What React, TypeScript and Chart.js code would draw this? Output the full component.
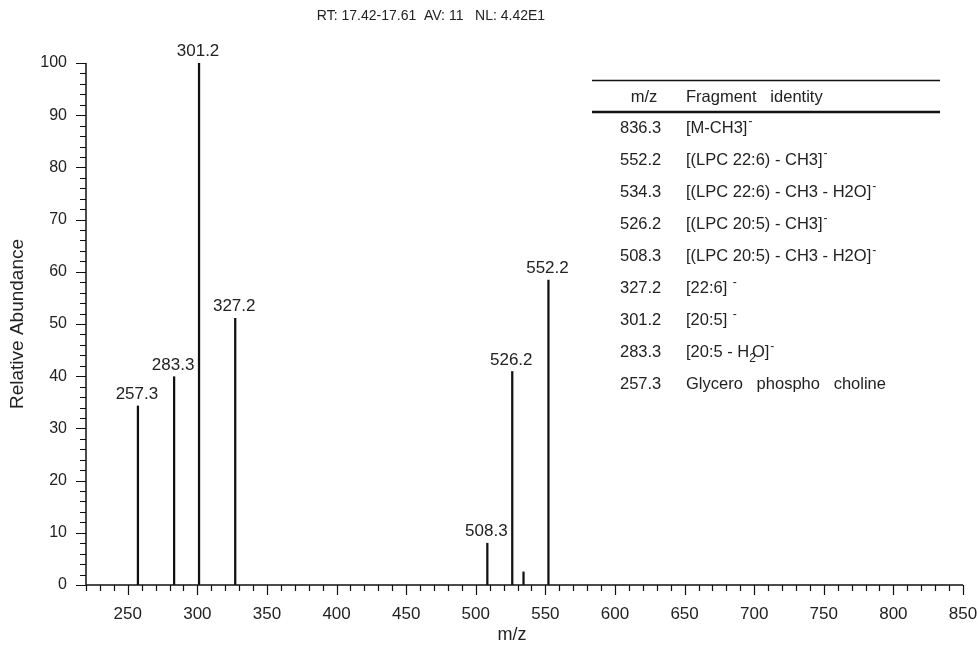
import React, { useEffect, useRef } from 'react';
import { Chart, registerables } from 'chart.js';

Chart.register(...registerables);

const FONT = '"Liberation Sans", Arial, Helvetica, sans-serif';

// ---- data ----
const peakMz = [257.3, 283.3, 301.2, 327.2, 508.3, 526.2, 534.3, 552.2];
const peakAbundance = [34.3, 39.9, 100, 51.1, 8.0, 40.9, 2.5, 58.4];
const peakLabels = ['257.3', '283.3', '301.2', '327.2', '508.3', '526.2', '', '552.2'];

const xMin = 220;
const xMax = 850;
const xLabelValues = [250, 300, 350, 400, 450, 500, 550, 600, 650, 700, 750, 800, 850];
const yLabelValues = [0, 10, 20, 30, 40, 50, 60, 70, 80, 90, 100];

const titleText = 'RT: 17.42-17.61  AV: 11   NL: 4.42E1';
const xTitle = 'm/z';
const yTitle = 'Relative Abundance';

const tableHeader = ['m/z', 'Fragment   identity'];
const tableMz = ['836.3', '552.2', '534.3', '526.2', '508.3', '327.2', '301.2', '283.3', '257.3'];
// ^ marks a superscript, _ marks a subscript
const tableIdentity = [
  '[M-CH3]^-',
  '[(LPC 22:6) - CH3]^-',
  '[(LPC 22:6) - CH3 - H2O]^-',
  '[(LPC 20:5) - CH3]^-',
  '[(LPC 20:5) - CH3 - H2O]^-',
  '[22:6] ^-',
  '[20:5] ^-',
  '[20:5 - H_2O]^-',
  'Glycero   phospho   choline',
];

function drawRich(ctx: CanvasRenderingContext2D, text: string, x: number, y: number) {
  let cx = x;
  let i = 0;
  while (i < text.length) {
    const ch = text[i];
    if (ch === '^' || ch === '_') {
      const s = text[i + 1];
      ctx.save();
      ctx.font = `12px ${FONT}`;
      if (ch === '^') {
        ctx.fillText(s, cx + 1, y - 6);
        cx += ctx.measureText(s).width + 1;
      } else {
        ctx.fillText(s, cx, y + 6);
        cx += ctx.measureText(s).width - 4;
      }
      ctx.restore();
      i += 2;
    } else {
      let j = i;
      while (j < text.length && text[j] !== '^' && text[j] !== '_') j++;
      const part = text.slice(i, j);
      ctx.fillText(part, cx, y);
      cx += ctx.measureText(part).width;
      i = j;
    }
  }
}

const decorPlugin = {
  id: 'decor',
  afterDraw(chart: any) {
    const ctx: CanvasRenderingContext2D = chart.ctx;
    const xs = chart.scales.x;
    const ys = chart.scales.y;
    const area = chart.chartArea;
    ctx.save();
    ctx.strokeStyle = '#111';
    ctx.fillStyle = '#222';

    // axis lines
    ctx.lineWidth = 1.5;
    ctx.beginPath();
    ctx.moveTo(area.left, ys.getPixelForValue(100));
    ctx.lineTo(area.left, ys.getPixelForValue(0));
    ctx.lineTo(xs.getPixelForValue(xMax), ys.getPixelForValue(0));
    ctx.stroke();

    // tick marks
    ctx.lineWidth = 1.2;
    ctx.beginPath();
    for (let v = 0; v <= 100; v += 2) {
      const py = Math.round(ys.getPixelForValue(v)) + 0.5;
      const len = v % 10 === 0 ? 10 : 6;
      ctx.moveTo(area.left, py);
      ctx.lineTo(area.left - len, py);
    }
    const y0 = ys.getPixelForValue(0);
    for (let v = xMin; v <= xMax; v += 10) {
      const px = Math.round(xs.getPixelForValue(v)) + 0.5;
      const len = v % 50 === 0 ? 10 : 6;
      ctx.moveTo(px, y0);
      ctx.lineTo(px, y0 + len);
    }
    ctx.stroke();

    // peak labels
    ctx.font = `17px ${FONT}`;
    ctx.textAlign = 'center';
    ctx.textBaseline = 'bottom';
    peakMz.forEach((m, i) => {
      if (!peakLabels[i]) return;
      const px = xs.getPixelForValue(m) - 1;
      const py = ys.getPixelForValue(peakAbundance[i]) - 3;
      ctx.fillText(peakLabels[i], px, py);
    });

    // title
    ctx.font = `14px ${FONT}`;
    ctx.textBaseline = 'middle';
    ctx.fillText(titleText, 431, 16);

    // axis titles
    ctx.font = `18px ${FONT}`;
    ctx.fillText(xTitle, 512, 635);
    ctx.save();
    ctx.font = `19px ${FONT}`;
    ctx.translate(18, (area.top + area.bottom) / 2);
    ctx.rotate(-Math.PI / 2);
    ctx.fillText(yTitle, 0, 0);
    ctx.restore();

    // table
    ctx.lineWidth = 1.5;
    ctx.beginPath();
    ctx.moveTo(592, 80.5);
    ctx.lineTo(940, 80.5);
    ctx.stroke();
    ctx.lineWidth = 2.5;
    ctx.beginPath();
    ctx.moveTo(592, 112);
    ctx.lineTo(940, 112);
    ctx.stroke();

    ctx.font = `16.5px ${FONT}`;
    ctx.textBaseline = 'middle';
    ctx.textAlign = 'center';
    ctx.fillText(tableHeader[0], 644, 97);
    ctx.textAlign = 'left';
    ctx.fillText(tableHeader[1], 686, 97);
    tableMz.forEach((m, i) => {
      const ry = 128 + i * 32.1;
      ctx.textAlign = 'left';
      ctx.font = `16.5px ${FONT}`;
      ctx.fillText(m, 620, ry);
      drawRich(ctx, tableIdentity[i], 686, ry);
    });

    ctx.restore();
  },
};

export default function App() {
  const ref = useRef<HTMLCanvasElement | null>(null);

  useEffect(() => {
    document.body.style.margin = '0';
    const canvas = ref.current;
    if (!canvas) return;
    Chart.defaults.font.family = FONT;
    const chart = new Chart(canvas, {
      type: 'bar',
      data: {
        datasets: [
          {
            data: peakMz.map((m, i) => ({ x: m, y: peakAbundance[i] })),
            backgroundColor: '#111',
            borderWidth: 0,
            barThickness: 1.6,
          },
        ],
      },
      options: {
        animation: false,
        responsive: false,
        maintainAspectRatio: false,
        layout: { padding: { top: 63, right: 14, left: 0, bottom: 0 } },
        plugins: {
          legend: { display: false },
          tooltip: { enabled: false },
          title: { display: false },
        },
        scales: {
          x: {
            type: 'linear',
            min: xMin,
            max: xMax,
            offset: false,
            grid: { display: false, drawTicks: false },
            border: { display: false },
            ticks: {
              stepSize: 10,
              autoSkip: false,
              maxRotation: 0,
              minRotation: 0,
              padding: 19,
              color: '#222',
              font: { size: 17, family: FONT },
              callback: (v: any) => (xLabelValues.includes(Number(v)) ? String(v) : ''),
            },
            afterFit: (s: any) => {
              s.height = 63;
              s.paddingLeft = 0;
              s.paddingRight = 0;
            },
          },
          y: {
            min: 0,
            max: 100,
            grid: { display: false, drawTicks: false },
            border: { display: false },
            ticks: {
              stepSize: 10,
              padding: 19,
              color: '#222',
              font: { size: 16, family: FONT },
              callback: (v: any) => (yLabelValues.includes(Number(v)) ? String(v) : ''),
            },
            afterFit: (s: any) => {
              s.width = 86;
              s.paddingTop = 0;
              s.paddingBottom = 0;
            },
          },
        },
      },
      plugins: [decorPlugin],
    });
    return () => chart.destroy();
  }, []);

  return (
    <div style={{ width: 977, height: 648, background: '#fff' }}>
      <canvas ref={ref} width={977} height={648} style={{ display: 'block', width: 977, height: 648 }} />
    </div>
  );
}
